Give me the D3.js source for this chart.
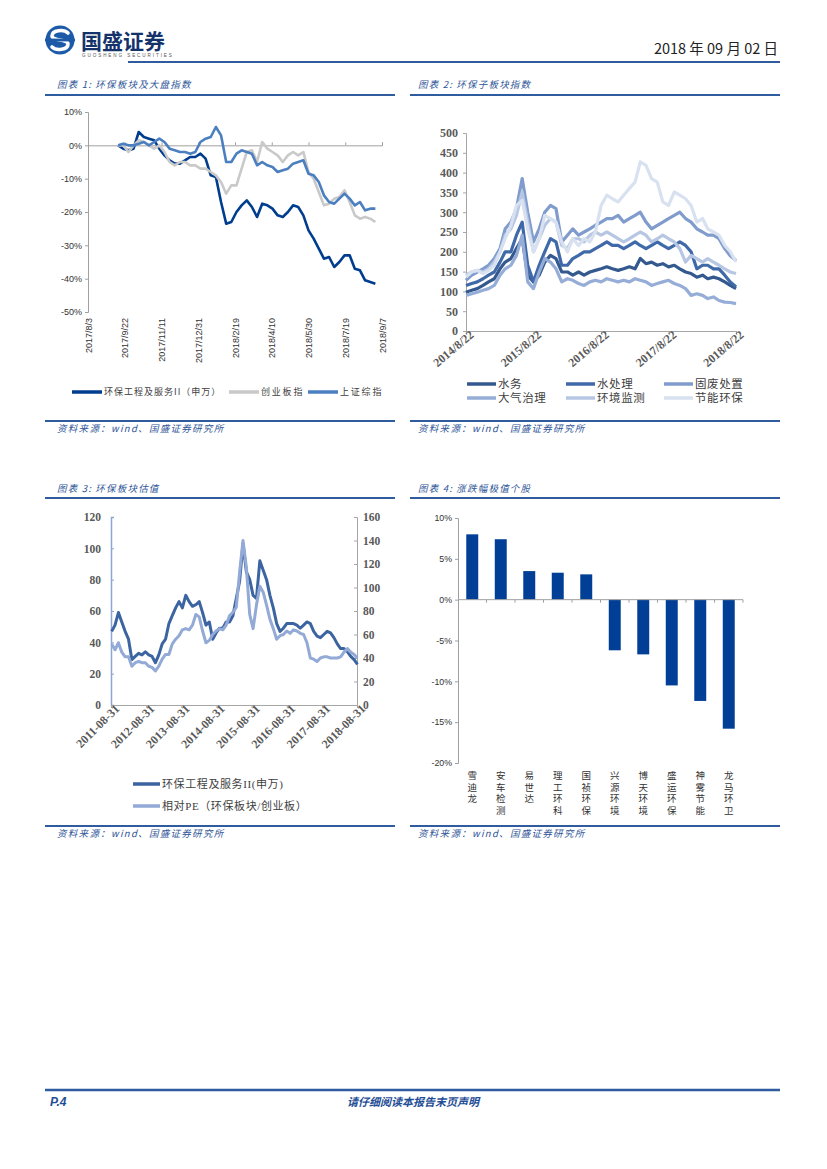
<!DOCTYPE html>
<html>
<head>
<meta charset="utf-8">
<script src="https://cdn.jsdelivr.net/npm/d3@7"></script>
<style>
body { margin: 0; background: #fff; }
svg { display: block; }
</style>
</head>
<body>
<svg id="page" width="827" height="1169"></svg>
<script>
// ---- chart 1: 环保板块及大盘指数 (weekly, % change)
var c1Start = "2017-09-13";
var c1Ticks = ["2017-08-03", "2017-09-22", "2017-11-11", "2017-12-31", "2018-02-19", "2018-04-10", "2018-05-30", "2018-07-19", "2018-09-07"];
var c1Names = ["环保工程及服务II（申万）", "创业板指", "上证综指"];
var hbgc = [0, -1, -1.5, -1, 4, 2.5, 2, 1.5, -1, -3, -4.5, -5.5, -5.5, -4.5, -3.5, -3.5, -2.5, -4, -9, -9.5, -17, -23.5, -23, -20, -18, -16.5, -18.5, -21.5, -17.5, -18, -19, -21, -21.5, -20, -18, -18.5, -21, -25.5, -28, -31, -34, -33.5, -36.5, -35, -33, -33, -37, -37.5, -40.5, -41, -41.5];
var cybz = [0, 0, -2, 0, 1.5, 1, 0, -1, 0, -2, -5, -6, -5, -5, -6, -6, -7, -7, -8, -9, -11, -14.5, -12, -12, -7, -2, -1.5, -5, 1, -1, -2, -3, -5, -3, -2, -3, -2, -8, -10, -14, -18, -17.5, -16, -15.5, -13.5, -17, -21, -22, -21.5, -22, -23];
var szzz = [0, 0.5, 0, 0, 0.5, 1, 0, 1, 2, 1, -1, -1.5, -2, -2, -2.5, -2, 1, 2, 2.5, 5.5, 3, -5, -5, -2.5, -1.5, -2, -2.5, -6, -5, -6, -6.5, -8, -7.5, -7, -5.5, -5, -4.5, -8.5, -9, -11, -15, -17, -17.5, -16, -14.5, -16, -18, -17, -19.5, -19, -19];

// ---- chart 2: 环保子板块指数 (monthly, 22nd)
var c2Start = "2014-08-22";
var c2Ticks = ["2014-08-22", "2015-08-22", "2016-08-22", "2017-08-22", "2018-08-22"];
var c2Names = ["水务", "水处理", "固废处置", "大气治理", "环境监测", "节能环保"];
var shuiwu = [98, 103, 107, 115, 124, 132, 157, 174, 183, 208, 233, 141, 124, 141, 174, 191, 183, 149, 149, 141, 149, 141, 149, 153, 157, 162, 157, 153, 157, 162, 157, 183, 170, 174, 166, 170, 162, 166, 157, 149, 145, 136, 141, 132, 136, 132, 124, 115, 107];
var shuichuli = [115, 120, 124, 132, 141, 149, 174, 200, 200, 242, 275, 166, 124, 166, 200, 233, 225, 166, 166, 183, 191, 200, 200, 208, 216, 225, 216, 216, 208, 216, 225, 216, 208, 216, 225, 216, 208, 216, 225, 216, 200, 157, 166, 166, 157, 157, 141, 124, 111];
var gufei = [128, 141, 149, 157, 166, 183, 208, 258, 275, 309, 385, 300, 225, 258, 300, 317, 309, 225, 242, 258, 242, 250, 258, 267, 275, 284, 284, 292, 275, 284, 292, 300, 275, 258, 267, 275, 284, 292, 300, 284, 275, 258, 250, 242, 242, 233, 208, 190, 178];
var daqi = [90, 94, 98, 103, 107, 115, 141, 157, 166, 191, 242, 124, 107, 149, 183, 174, 157, 124, 132, 128, 120, 115, 124, 128, 124, 132, 128, 124, 128, 124, 132, 128, 124, 115, 120, 124, 128, 120, 115, 107, 90, 94, 90, 82, 86, 77, 73, 72, 69];
var jiance = [141, 149, 153, 149, 157, 174, 200, 242, 258, 292, 351, 275, 200, 233, 267, 284, 275, 216, 208, 233, 233, 225, 242, 250, 242, 250, 242, 233, 225, 233, 242, 250, 242, 225, 233, 242, 233, 225, 208, 174, 191, 183, 174, 183, 174, 166, 157, 149, 145];
var jieneng = [136, 149, 153, 145, 153, 166, 200, 233, 267, 317, 330, 258, 200, 233, 292, 284, 275, 225, 200, 233, 216, 233, 225, 250, 317, 343, 334, 326, 343, 360, 376, 427, 418, 385, 376, 326, 317, 351, 343, 334, 317, 275, 284, 258, 250, 242, 216, 200, 174];

// ---- chart 3: 环保板块估值 (every 35 days)
var c3Start = "2011-09-07";
var c3Ticks = ["2011-08-31", "2012-08-31", "2013-08-31", "2014-08-31", "2015-08-31", "2016-08-31", "2017-08-31", "2018-08-31"];
var c3Names = ["环保工程及服务II(申万)", "相对PE（环保板块/创业板）"];
var pe = [47, 51, 59, 53, 47, 42, 29, 31, 33, 32, 34, 32, 31, 27, 32, 39, 42, 52, 57, 62, 66, 62, 70, 66, 63, 64, 66, 59, 51, 53, 42, 46, 49, 49, 53, 53, 57, 68, 79, 103, 85, 80, 70, 68, 92, 86, 80, 70, 62, 52, 47, 49, 52, 52, 52, 51, 49, 51, 53, 52, 47, 44, 43, 45, 47, 46, 43, 39, 36, 36, 34, 31, 29, 26];
var relPe = [52, 47, 53, 45, 41, 41, 33, 36, 37, 36, 36, 33, 32, 29, 33, 39, 43, 43, 52, 56, 59, 64, 65, 64, 68, 77, 75, 63, 53, 55, 60, 63, 65, 64, 68, 76, 79, 83, 113, 140, 117, 77, 65, 85, 101, 96, 85, 73, 65, 56, 59, 60, 63, 61, 64, 63, 61, 60, 53, 40, 39, 37, 40, 41, 41, 40, 40, 40, 41, 45, 48, 45, 43, 40];

// ---- chart 4: 涨跌幅极值个股
var stocks = ["雪迪龙", "安车检测", "易世达", "理工环科", "国祯环保", "兴源环境", "博天环境", "盛运环保", "神雾节能", "龙马环卫"];
var changes = [8.0, 7.4, 3.5, 3.3, 3.1, -6.2, -6.7, -10.5, -12.4, -15.8];

var BLUE = "#2f5c9e", TITLE = "#2e5597";
var SANS = "'Liberation Sans', Arial, sans-serif";
var SERIF = "'Liberation Serif', 'Times New Roman', serif";
var CJK = "'Noto Sans CJK SC', sans-serif";

var parse = d3.timeParse("%Y-%m-%d");
var page = d3.select("#page");
page.append("rect").attr("width", 827).attr("height", 1169).attr("fill", "#fff");

function hline(x1, x2, y, w) {
    page.append("line").attr("x1", x1).attr("x2", x2).attr("y1", y).attr("y2", y)
        .attr("stroke", BLUE).attr("stroke-width", w || 2);
}
function italicText(x, y, s, size, spacing) {
    return page.append("text").attr("x", x).attr("y", y).text(s)
        .attr("font-family", CJK).attr("font-style", "italic")
        .attr("font-size", size).attr("fill", TITLE)
        .attr("letter-spacing", spacing || 0);
}
function styleAxis(g, color, font, size, weight, fill) {
    g.select(".domain").attr("stroke", color);
    g.selectAll(".tick line").attr("stroke", color);
    g.selectAll("text").attr("font-family", font).attr("font-size", size)
        .attr("font-weight", weight).attr("fill", fill);
}
function seriesDates(start, step, n) {
    var s = parse(start);
    return d3.range(n).map(function(i) { return d3.timeDay.offset(s, step * i); });
}
function legendItem(x, y, color, label, size, font, lineLen, spacing) {
    page.append("line").attr("x1", x).attr("x2", x + lineLen).attr("y1", y).attr("y2", y)
        .attr("stroke", color).attr("stroke-width", 3.5);
    page.append("text").attr("x", x + lineLen + 2).attr("y", y).attr("dy", "0.36em")
        .text(label).attr("font-family", font).attr("font-size", size).attr("fill", "#404040")
        .attr("letter-spacing", spacing);
}

// ---- header
var logo = page.append("g").attr("transform", "translate(60,40)");
logo.append("circle").attr("r", 14.5).attr("fill", "#1d5aa8");
logo.append("path").attr("d", "M8,-7 C4,-11 -8,-10 -8,-4 C-8,1 8,-1 8,4 C8,10 -4,11 -8,7")
    .attr("fill", "none").attr("stroke", "#fff").attr("stroke-width", 3.6).attr("stroke-linecap", "round");
logo.append("rect").attr("x", -15).attr("y", -1.4).attr("width", 30).attr("height", 2.8).attr("fill", "#1d5aa8");
page.append("text").attr("x", 81).attr("y", 49).text("国盛证券")
    .attr("font-family", CJK).attr("font-weight", "bold").attr("font-size", 21).attr("fill", "#15336b");
page.append("text").attr("x", 82).attr("y", 57).text("GUOSHENG SECURITIES")
    .attr("font-family", SANS).attr("font-size", 4.6).attr("letter-spacing", 1.9).attr("fill", "#555");
page.append("text").attr("x", 778).attr("y", 54).text("2018 年 09 月 02 日")
    .attr("font-family", "'Liberation Sans Narrow', " + CJK).attr("font-size", 14.5)
    .attr("text-anchor", "end").attr("fill", "#222");
hline(128, 780, 62, 2);

// ---- titles / sources
italicText(57, 88, "图表 1:  环保板块及大盘指数", 9.5, 1.2);
italicText(418, 88, "图表 2:  环保子板块指数", 9.5, 1.2);
hline(45, 395, 95); hline(410, 780, 95);
hline(45, 395, 421); hline(410, 780, 421);
italicText(57, 432, "资料来源：wind、国盛证券研究所", 9.5, 1.3);
italicText(418, 432, "资料来源：wind、国盛证券研究所", 9.5, 1.3);
italicText(57, 492, "图表 3:  环保板块估值", 9.5, 1.2);
italicText(418, 492, "图表 4:  涨跌幅极值个股", 9.5, 1.2);
hline(45, 395, 498); hline(410, 780, 498);
hline(45, 395, 826); hline(410, 780, 826);
italicText(57, 837, "资料来源：wind、国盛证券研究所", 9.5, 1.3);
italicText(418, 837, "资料来源：wind、国盛证券研究所", 9.5, 1.3);

// ---- footer
hline(45, 780, 1090, 2.5);
page.append("text").attr("x", 50).attr("y", 1106).text("P.4")
    .attr("font-family", SANS).attr("font-weight", "bold").attr("font-style", "italic")
    .attr("font-size", 12).attr("fill", "#1f4e96");
page.append("text").attr("x", 413).attr("y", 1106).text("请仔细阅读本报告末页声明")
    .attr("font-family", CJK).attr("font-weight", "bold").attr("font-style", "italic")
    .attr("font-size", 11).attr("fill", "#1f4e96").attr("text-anchor", "middle");

// ================= chart 1
(function() {
    var dates = seriesDates(c1Start, 7, hbgc.length);
    var x = d3.scaleTime().domain([parse("2017-08-03"), parse("2018-09-07")]).range([88, 382]);
    var y = d3.scaleLinear().domain([-50, 10]).range([312, 112]);
    var ticks = c1Ticks.map(parse);

    var ya = page.append("g").attr("transform", "translate(88,0)")
        .call(d3.axisLeft(y).tickValues(d3.range(-50, 11, 10)).tickSize(3).tickPadding(3)
            .tickFormat(function(d) { return d + "%"; }));
    styleAxis(ya, "#a0a0a0", SANS, 9, "normal", "#333");

    var zero = page.append("g").attr("transform", "translate(0," + y(0) + ")")
        .call(d3.axisTop(x).tickValues(ticks).tickSize(3).tickFormat(""));
    styleAxis(zero, "#a0a0a0", SANS, 8, "normal", "#333");

    var xa = page.append("g").attr("transform", "translate(0,318)")
        .call(d3.axisBottom(x).tickValues(ticks).tickSize(0).tickFormat(d3.timeFormat("%Y/%-m/%-d")));
    xa.select(".domain").remove();
    xa.selectAll("text").attr("transform", "rotate(-90)").attr("x", 0).attr("y", 0)
        .attr("dy", "0.35em").attr("text-anchor", "end");
    styleAxis(xa, "#a0a0a0", SANS, 9, "normal", "#333");

    var line = d3.line().x(function(d, i) { return x(dates[i]); }).y(function(d) { return y(d); });
    var series = [[hbgc, "#003d8f"], [cybz, "#c9c9c9"], [szzz, "#4b7fc0"]];
    series.forEach(function(s) {
        page.append("path").datum(s[0]).attr("d", line).attr("fill", "none")
            .attr("stroke", s[1]).attr("stroke-width", 2.6).attr("stroke-linejoin", "round");
    });

    var lx = [72, 229, 308];
    c1Names.forEach(function(n, i) {
        legendItem(lx[i], 392, series[i][1], n, 9, CJK, 30, i === 0 ? 1 : 1.8);
    });
})();

// ================= chart 2
(function() {
    var data = [shuiwu, shuichuli, gufei, daqi, jiance, jieneng];
    var colors = ["#34598f", "#3f69a8", "#7f9ccc", "#96aed7", "#b7c7e3", "#d8e1f0"];
    var dates = d3.range(shuiwu.length).map(function(i) { return d3.timeMonth.offset(parse(c2Start), i); });
    var x = d3.scaleTime().domain([parse(c2Ticks[0]), parse(c2Ticks[4])]).range([466, 736]);
    var y = d3.scaleLinear().domain([0, 500]).range([331, 133]);

    var ya = page.append("g").attr("transform", "translate(466,0)")
        .call(d3.axisLeft(y).tickValues(d3.range(0, 501, 50)).tickSize(3).tickPadding(5));
    styleAxis(ya, "#a6a6a6", SERIF, 12, "bold", "#595959");

    var xa = page.append("g").attr("transform", "translate(0,331)")
        .call(d3.axisBottom(x).tickValues(c2Ticks.map(parse)).tickSize(3)
            .tickFormat(d3.timeFormat("%Y/%-m/%-d")));
    xa.selectAll("text").attr("transform", "rotate(-40)").attr("x", 3).attr("y", 5)
        .attr("dy", "0.35em").attr("text-anchor", "end");
    styleAxis(xa, "#a6a6a6", SERIF, 12, "bold", "#595959");

    var line = d3.line().x(function(d, i) { return x(dates[i]); }).y(function(d) { return y(d); });
    data.forEach(function(s, i) {
        page.append("path").datum(s).attr("d", line).attr("fill", "none")
            .attr("stroke", colors[i]).attr("stroke-width", 3.2).attr("stroke-linejoin", "round");
    });

    var lx = [467, 566, 664], ly = [384, 398];
    c2Names.forEach(function(n, i) {
        legendItem(lx[i % 3], ly[Math.floor(i / 3)], colors[i], n, 11.5, CJK, 29, 0.6);
    });
})();

// ================= chart 3
(function() {
    var dates = seriesDates(c3Start, 35, pe.length);
    var x = d3.scaleTime().domain([parse(c3Ticks[0]), parse(c3Ticks[7])]).range([111, 357]);
    var yl = d3.scaleLinear().domain([0, 120]).range([705, 517]);
    var yr = d3.scaleLinear().domain([0, 160]).range([705, 517]);

    var al = page.append("g").attr("transform", "translate(111,0)")
        .call(d3.axisLeft(yl).tickValues(d3.range(0, 121, 20)).tickSize(-3).tickPadding(10));
    styleAxis(al, "#8ea6cf", SERIF, 11.5, "bold", "#595959");
    al.select(".domain").attr("stroke-width", 1.5);

    var ar = page.append("g").attr("transform", "translate(357,0)")
        .call(d3.axisRight(yr).tickValues(d3.range(0, 161, 20)).tickSize(-3).tickPadding(6));
    styleAxis(ar, "#a6a6a6", SERIF, 11.5, "bold", "#595959");

    var xa = page.append("g").attr("transform", "translate(0,705)")
        .call(d3.axisBottom(x).tickValues(c3Ticks.map(parse)).tickSize(3)
            .tickFormat(d3.timeFormat("%Y-%m-%d")));
    xa.selectAll("text").attr("transform", "rotate(-45)").attr("x", 3).attr("y", 5)
        .attr("dy", "0.35em").attr("text-anchor", "end");
    styleAxis(xa, "#a6a6a6", SERIF, 12, "bold", "#595959");

    var l1 = d3.line().x(function(d, i) { return x(dates[i]); }).y(function(d) { return yl(d); });
    var l2 = d3.line().x(function(d, i) { return x(dates[i]); }).y(function(d) { return yr(d); });
    page.append("path").datum(pe).attr("d", l1).attr("fill", "none")
        .attr("stroke", "#3b64a1").attr("stroke-width", 3).attr("stroke-linejoin", "round");
    page.append("path").datum(relPe).attr("d", l2).attr("fill", "none")
        .attr("stroke", "#93a9d6").attr("stroke-width", 3).attr("stroke-linejoin", "round");

    legendItem(133, 784, "#3b64a1", c3Names[0], 11, SERIF + ", " + CJK, 27, 0.6);
    legendItem(133, 806, "#93a9d6", c3Names[1], 11, SERIF + ", " + CJK, 27, 0.6);
})();

// ================= chart 4
(function() {
    var x = d3.scaleBand().domain(stocks).range([458, 743]).paddingInner(0.58).paddingOuter(0.29);
    var y = d3.scaleLinear().domain([-20, 10]).range([763, 518]);

    var ya = page.append("g").attr("transform", "translate(458,0)")
        .call(d3.axisLeft(y).tickValues(d3.range(-20, 11, 5)).tickSize(3).tickPadding(3)
            .tickFormat(function(d) { return d + "%"; }));
    styleAxis(ya, "#a0a0a0", SANS, 8.8, "normal", "#333");

    page.selectAll(".bar").data(changes).enter().append("rect")
        .attr("class", "bar")
        .attr("x", function(d, i) { return x(stocks[i]); })
        .attr("width", x.bandwidth())
        .attr("y", function(d) { return y(Math.max(0, d)); })
        .attr("height", function(d) { return Math.abs(y(d) - y(0)); })
        .attr("fill", "#003f95");

    var step = x.step();
    var bounds = d3.range(1, stocks.length + 1).map(function(i) { return 458 + step * i; });
    var zero = page.append("g");
    zero.append("line").attr("x1", 458).attr("x2", 743).attr("y1", y(0)).attr("y2", y(0))
        .attr("stroke", "#a0a0a0");
    zero.selectAll("line.tk").data(bounds).enter().append("line").attr("class", "tk")
        .attr("x1", function(d) { return d; }).attr("x2", function(d) { return d; })
        .attr("y1", y(0)).attr("y2", y(0) + 3).attr("stroke", "#a0a0a0");

    // stacked vertical labels, one text per character
    stocks.forEach(function(n) {
        n.split("").forEach(function(ch, k) {
            page.append("text").attr("font-family", CJK).attr("font-size", 9.5)
                .attr("fill", "#333").attr("text-anchor", "middle")
                .attr("x", x(n) + x.bandwidth() / 2).attr("y", 779 + k * 11.7).text(ch);
        });
    });
})();
</script>
</body>
</html>
